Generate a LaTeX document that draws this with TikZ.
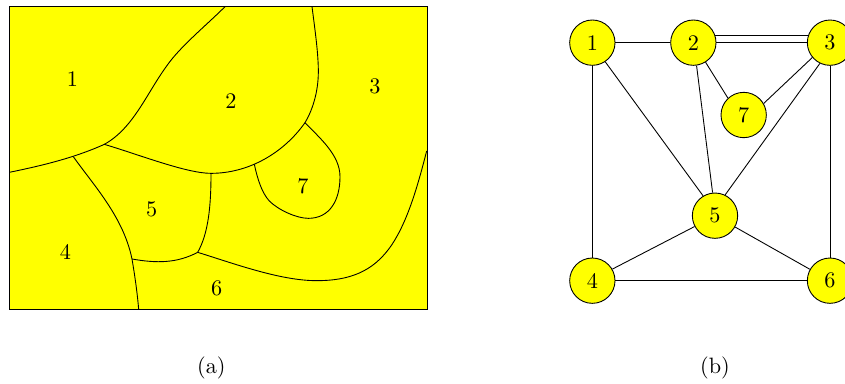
\documentclass[tikz,border=0pt]{standalone}
\definecolor{pureyellow}{RGB}{255,255,0}
\tikzset{
  vtx/.style={circle,draw=black,fill=pureyellow,line width=0.4pt,minimum size=20.4pt,inner sep=0pt},
  edge/.style={draw=black,line width=0.4pt},
  border/.style={draw=black,line width=0.4pt},
  lbl/.style={inner sep=0pt}
}
\begin{document}
\begin{tikzpicture}[x=0.15pt,y=-0.15pt]
\useasboundingbox (0,0) rectangle (2535,1149);
\clip (0,0) rectangle (2535,1149);
\fill[pureyellow] (28,20) rectangle (1281,928);
\draw[border] (28,517) .. controls (120,498) and (220,475) .. (313,433) .. controls (400,385) and (440,280) .. (500,198) .. controls (540,140) and (620,75) .. (675,20);
\draw[border] (936,20) .. controls (945,90) and (955,160) .. (955,215) .. controls (955,280) and (935,335) .. (915,368) .. controls (850,460) and (745,520) .. (633,520) .. controls (560,520) and (420,465) .. (313,433);
\draw[border] (915,368) .. controls (960,415) and (1020,465) .. (1020,530) .. controls (1020,600) and (990,655) .. (925,655) .. controls (890,655) and (835,630) .. (808,603) .. controls (785,578) and (772,535) .. (763,493);
\draw[border] (633,520) .. controls (633,620) and (625,700) .. (593,757);
\draw[border] (220,470) .. controls (280,555) and (370,650) .. (396,777) .. controls (405,830) and (412,880) .. (416,928);
\draw[border] (396,777) .. controls (470,790) and (530,790) .. (593,757);
\draw[border] (593,757) .. controls (700,790) and (840,842) .. (950,842) .. controls (1070,842) and (1130,800) .. (1175,735) .. controls (1225,660) and (1255,550) .. (1280,453);
\draw[border] (28,20) rectangle (1281,928);
\node[lbl] (r1) at (217,236) {1};
\node[lbl] (r2) at (693,302) {2};
\node[lbl] (r3) at (1125,260) {3};
\node[lbl] (r4) at (196,756) {4};
\node[lbl] (r5) at (455,627) {5};
\node[lbl] (r6) at (650,864) {6};
\node[lbl] (r7) at (909,560) {7};
\node[vtx] (n1) at (1777,128) {1};
\node[vtx] (n2) at (2080,128) {2};
\node[vtx] (n3) at (2490,128) {3};
\node[vtx] (n4) at (1777,842) {4};
\node[vtx] (n5) at (2145,647) {5};
\node[vtx] (n6) at (2490,842) {6};
\node[vtx] (n7) at (2231,345) {7};
\draw[edge] (n1) -- (n2);
\draw[edge] (n2) -- (n3);
\draw[edge] (n2.19) -- (n3.161);
\draw[edge] (n1) -- (n4);
\draw[edge] (n1.-56) -- (n5.121);
\draw[edge] (n2.-82) -- (n5.96);
\draw[edge] (n2.-58) -- (n7.133);
\draw[edge] (n3.220) -- (n7.30);
\draw[edge] (n3.244) -- (n5.64);
\draw[edge] (n3) -- (n6);
\draw[edge] (n4.30) -- (n5.208);
\draw[edge] (n4) -- (n6);
\draw[edge] (n5) -- (n6);
\node[lbl] (capa) at (634,1104) {(a)};
\node[lbl] (capb) at (2145,1104) {(b)};
\end{tikzpicture}
\end{document}
